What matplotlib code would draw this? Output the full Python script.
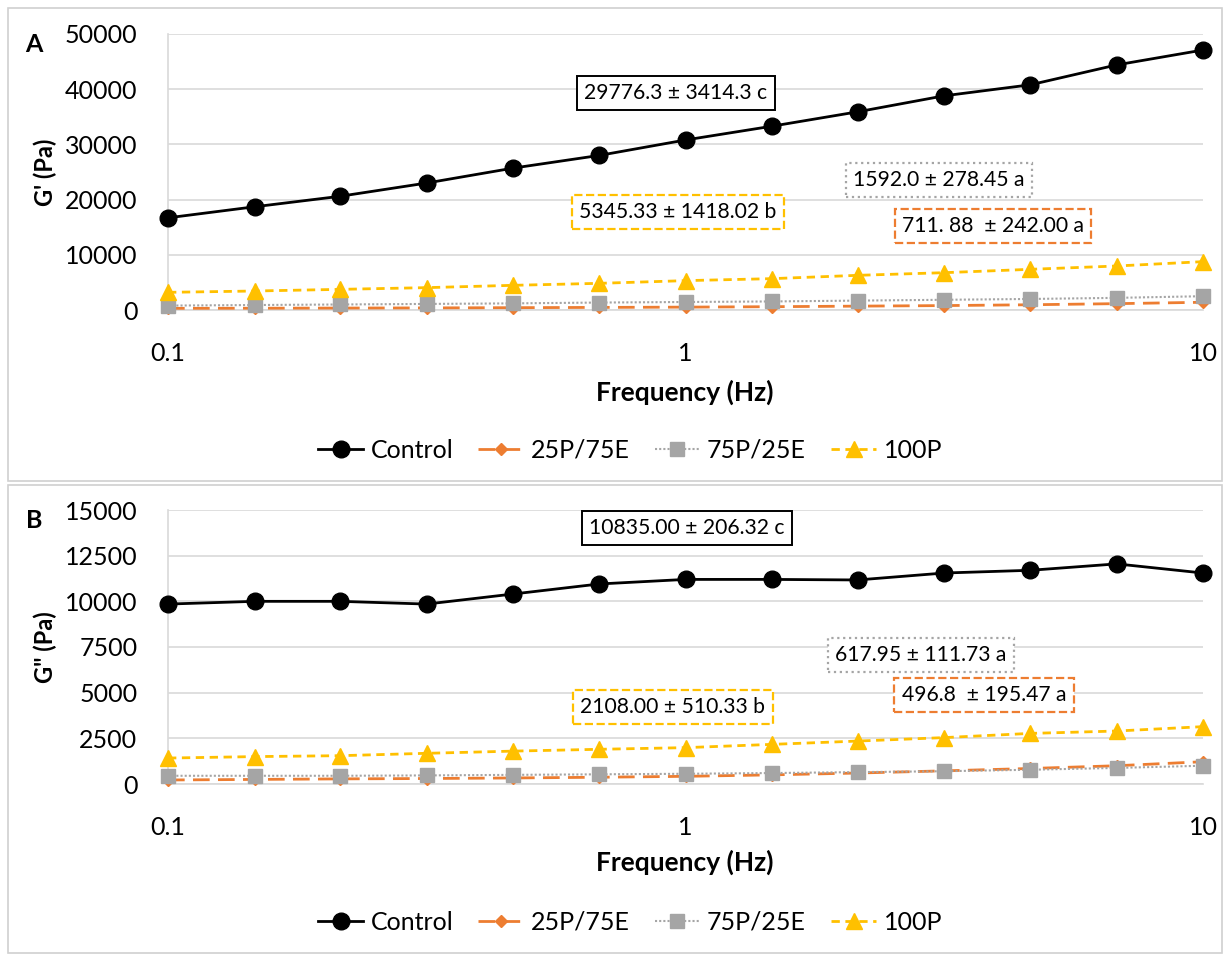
import matplotlib
matplotlib.use("Agg")
import matplotlib.pyplot as plt
from matplotlib.patches import Rectangle
from matplotlib.ticker import FixedLocator, NullLocator

plt.rcParams['font.family'] = ['Lato', 'DejaVu Sans']

freq = [0.1, 0.147, 0.215, 0.316, 0.464, 0.681, 1, 1.47, 2.15, 3.16, 4.64, 6.81, 10]

# Panel A: G' (Pa)
gp_control = [16700, 18700, 20600, 23000, 25700, 28000, 30800, 33300, 35900, 38800, 40800, 44400, 47100]
gp_25p75e = [300, 320, 350, 380, 420, 470, 520, 600, 700, 800, 950, 1150, 1400]
gp_75p25e = [800, 900, 1000, 1100, 1200, 1350, 1450, 1550, 1700, 1850, 2000, 2200, 2500]
gp_100p = [3200, 3440, 3740, 4050, 4470, 4830, 5320, 5680, 6280, 6760, 7370, 7970, 8760]

# Panel B: G'' (Pa)
gpp_control = [9850, 10000, 10000, 9850, 10400, 10950, 11200, 11200, 11170, 11550, 11700, 12050, 11550]
gpp_25p75e = [220, 250, 280, 300, 330, 370, 420, 500, 600, 720, 850, 1000, 1220]
gpp_75p25e = [450, 450, 450, 470, 500, 530, 560, 600, 650, 700, 780, 880, 1000]
gpp_100p = [1420, 1500, 1550, 1680, 1800, 1900, 1990, 2170, 2350, 2540, 2770, 2900, 3140]

series_names = ["Control", "25P/75E", "75P/25E", "100P"]

ann_A = [("29776.3 ± 3414.3 c", "black", "solid", 676, 93),
         ("1592.0 ± 278.45 a", "#A5A5A5", "dotted", 939, 180),
         ("5345.33 ± 1418.02 b", "#FFC000", "dashed", 678, 212),
         ("711. 88  ± 242.00 a", "#ED7D31", "dashed", 993, 226)]
ann_B = [("10835.00 ± 206.32 c", "black", "solid", 687, 528),
         ("617.95 ± 111.73 a", "#A5A5A5", "dotted", 921, 655),
         ("2108.00 ± 510.33 b", "#FFC000", "dashed", 673, 707),
         ("496.8  ± 195.47 a", "#ED7D31", "dashed", 984, 695)]

W, H = 1228, 955
fig = plt.figure(figsize=(W / 100, H / 100), dpi=100)

def fx(px):
    return px / W

def fy(py):
    return 1 - py / H

# panel borders
for (x0, y0, x1, y1) in [(8, 8, 1222, 481), (8, 485, 1222, 953)]:
    fig.patches.append(Rectangle((fx(x0), fy(y1)), fx(x1 - x0), (y1 - y0) / H,
                                 transform=fig.transFigure, fill=False,
                                 edgecolor="#D0D0D0", lw=1.2, zorder=0))

styles = [
    dict(color="black", ls="-", lw=2.0, marker="o", ms=12, mfc="black", mec="black"),
    dict(color="#ED7D31", ls=(0, (6, 3)), lw=2.0, marker="D", ms=6, mfc="#ED7D31", mec="#ED7D31"),
    dict(color="#A5A5A5", ls=(0, (1, 1)), lw=1.5, marker="s", ms=10, mfc="#A5A5A5", mec="#A5A5A5"),
    dict(color="#FFC000", ls=(0, (3, 2)), lw=2.0, marker="^", ms=11.5, mfc="#FFC000", mec="#FFC000"),
]

def make_panel(top, bottom, data, ymax, ystep, ylabel, letter, anns, legend_y, xlabel_y):
    ax = fig.add_axes([fx(168), fy(bottom), fx(1203 - 168), (bottom - top) / H])
    ax.set_xscale("log")
    order = [1, 2, 3, 0]
    for i in order:
        ax.plot(freq, data[i], label=series_names[i], clip_on=False, zorder=3 + (i == 0), **styles[i])
    ax.set_xlim(0.1, 10)
    ax.set_ylim(0, ymax)
    yt = list(range(0, ymax + 1, ystep))
    ax.yaxis.set_major_locator(FixedLocator(yt))
    ax.set_yticklabels([str(v) for v in yt])
    ax.xaxis.set_major_locator(FixedLocator([0.1, 1, 10]))
    ax.xaxis.set_minor_locator(NullLocator())
    ax.set_xticklabels(["0.1", "1", "10"])
    ax.tick_params(axis="both", length=0, labelsize=18)
    ax.tick_params(axis="y", pad=22)
    ax.tick_params(axis="x", pad=23)
    ax.grid(axis="y", color="#D9D9D9", lw=1.2)
    ax.set_axisbelow(True)
    for s in ["top", "right"]:
        ax.spines[s].set_visible(False)
    for s in ["left", "bottom"]:
        ax.spines[s].set_color("#D9D9D9")
        ax.spines[s].set_linewidth(1.2)
    fig.text(fx(45), fy((top + bottom) / 2), ylabel, rotation=90, fontsize=17,
             fontweight="bold", ha="center", va="center")
    fig.text(fx(685), fy(xlabel_y), "Frequency (Hz)", fontsize=19, fontweight="bold",
             ha="center", va="center")
    fig.text(fx(34), fy(top + 10), letter, fontsize=18, fontweight="bold", ha="center", va="center")
    for (txt, col, ls, cx, cy) in anns:
        fig.text(fx(cx), fy(cy), txt, fontsize=15.2, ha="center", va="center", color="black",
                 bbox=dict(boxstyle="square,pad=0.35", fc="white", ec=col, ls=ls,
                           lw=1.6 if col != "black" else 1.4))
    handles, labels = ax.get_legend_handles_labels()
    hmap = dict(zip(labels, handles))
    fig.legend([hmap[n] for n in series_names], series_names, loc="center",
               bbox_to_anchor=(fx(630), fy(legend_y)), ncol=4, frameon=False,
               fontsize=18, handlelength=1.8, columnspacing=1.0, handletextpad=0.3)
    return ax

make_panel(34, 310, [gp_control, gp_25p75e, gp_75p25e, gp_100p], 50000, 10000,
           "G' (Pa)", "A", ann_A, 450, 392)
make_panel(510, 784, [gpp_control, gpp_25p75e, gpp_75p25e, gpp_100p], 15000, 2500,
           'G" (Pa)', "B", ann_B, 922, 862)

fig.savefig("out.png", dpi=100)
